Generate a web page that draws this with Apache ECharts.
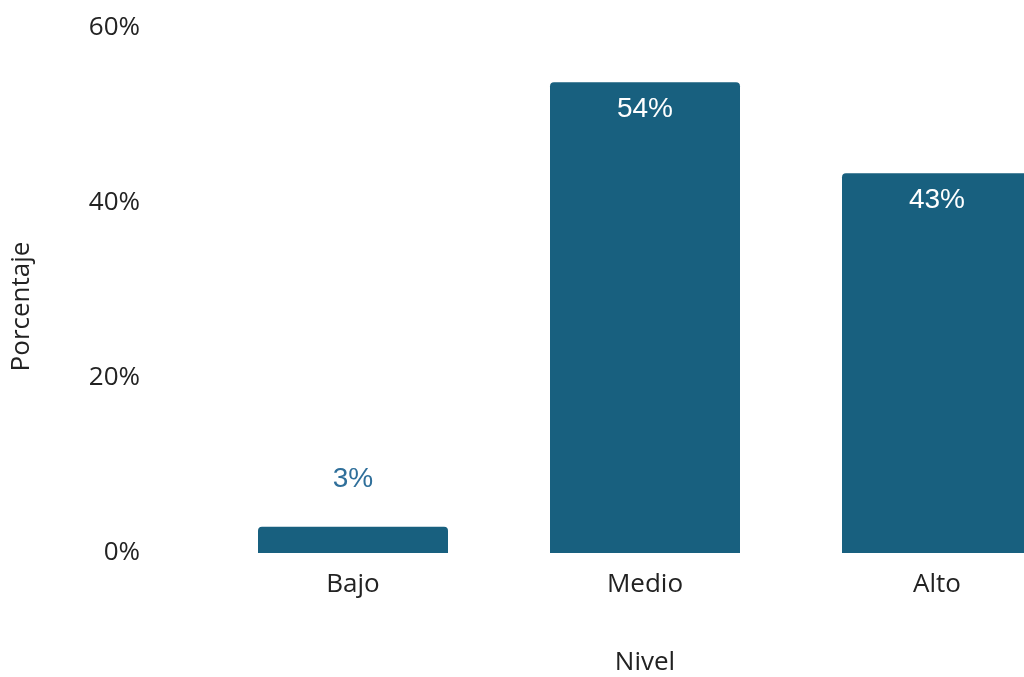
<!DOCTYPE html>
<html><head><meta charset="utf-8">
<script src="https://cdn.jsdelivr.net/npm/echarts@6/dist/echarts.min.js"></script>
<style>html,body{margin:0;padding:0;background:#fff}#c{width:1024px;height:677px}</style>
</head><body><div id="c"></div>
<script>
const categories = ['Bajo', 'Medio', 'Alto'];
const values = [3.0, 53.8, 43.4];
const yTicks = [0, 20, 40, 60];

const barColor = '#18607f';
const axisFont = '"Open Sans", "Noto Sans", sans-serif';
const valueFont = '"Liberation Sans", Arial, sans-serif';

const data = values.map(function (v, i) {
  const inside = v > 10;
  return {
    value: v,
    label: inside ? {
      position: 'insideTop', distance: 13, color: '#ffffff'
    } : {
      position: 'top', distance: 33, color: '#2f6f9a'
    }
  };
});

const chart = echarts.init(document.getElementById('c'));
chart.setOption({
  animation: false,
  grid: { left: 207, right: -59, top: 28, bottom: 124, containLabel: false, outerBoundsMode: 'none' },
  xAxis: {
    type: 'category',
    data: categories,
    name: 'Nivel',
    nameLocation: 'middle',
    nameGap: 97,
    nameTextStyle: { fontFamily: axisFont, fontSize: 26, color: '#222' },
    axisLine: { show: false },
    axisTick: { show: false },
    axisLabel: { fontFamily: axisFont, fontSize: 26, color: '#222', margin: 19 }
  },
  yAxis: {
    type: 'value',
    min: yTicks[0],
    max: yTicks[yTicks.length - 1],
    interval: yTicks[1] - yTicks[0],
    name: 'Porcentaje',
    nameLocation: 'middle',
    nameGap: 172,
    nameRotate: 90,
    nameTextStyle: { fontFamily: axisFont, fontSize: 26, color: '#222', padding: [0, 32, 0, 0] },
    axisLine: { show: false },
    axisTick: { show: false },
    splitLine: { show: false },
    axisLabel: { fontFamily: axisFont, fontSize: 26, color: '#222', margin: 67, formatter: '{value}%' }
  },
  series: [{
    type: 'bar',
    data: data,
    barWidth: 190,
    itemStyle: { color: barColor, borderRadius: [4, 4, 0, 0] },
    label: {
      show: true,
      formatter: function (p) { return Math.round(p.value) + '%'; },
      fontFamily: valueFont,
      fontSize: 28
    }
  }]
});
</script></body></html>
